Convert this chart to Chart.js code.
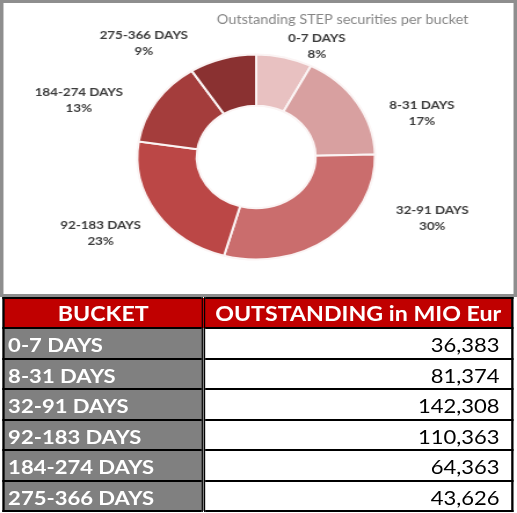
<!DOCTYPE html>
<html>
<head>
<meta charset="utf-8">
<script src="https://cdn.jsdelivr.net/npm/chart.js@4.4.1/dist/chart.umd.min.js"></script>
<style>
  html, body { margin: 0; padding: 0; background: #fff; }
  body { width: 517px; height: 513px; overflow: hidden; }
  /* the original picture is stretched sideways, so everything is drawn narrow and scaled */
  #page {
    position: absolute; left: 0; top: 0;
    width: 446px; height: 513px;
    transform: scaleX(1.1592); transform-origin: 0 0;
    font-family: Lato, sans-serif;
  }
  #panel {
    position: absolute; left: 0; top: 0;
    width: 446px; height: 297px; box-sizing: border-box;
    border: 3px solid #8e8e8e;
    background: #fff;
  }
  #panel canvas { display: block; }
  #tbl {
    position: absolute; left: 2px; top: 297px; width: 441px;
    border-collapse: collapse;
  }
  #tbl td, #tbl th { border: 2px solid #000; padding: 0; }
  #tbl th {
    background: #c00000; color: #fff; font-weight: 700; font-size: 20px;
    height: 28px; text-align: center;
  }
  #tbl td { height: 26px; padding-top: 2.5px; font-size: 19px; }
  #tbl td.name {
    background: #808080; color: #fff; font-weight: 700;
    padding-left: 3px; border-right: 3px double #000; width: 167px;
  }
  #tbl th.first { border-right: 3px double #000; }
  #tbl td.val { text-align: right; padding-right: 10px; color: #000; }
</style>
</head>
<body>
<div id="page">
  <div id="panel"><canvas id="chart" width="440" height="291"></canvas></div>
  <table id="tbl"></table>
</div>
<script>
// data
const buckets = ['0-7 DAYS', '8-31 DAYS', '32-91 DAYS', '92-183 DAYS', '184-274 DAYS', '275-366 DAYS'];
const outstanding = [36383, 81374, 142308, 110363, 64363, 43626];
const sliceColors = ['#e8c1c1', '#d8a0a0', '#ca6d6d', '#bb4746', '#a43d3c', '#8a3131'];
const tableHeaders = ['BUCKET', 'OUTSTANDING in MIO Eur'];
const chartTitle = 'Outstanding STEP securities per bucket';

// build the table
const tbl = document.getElementById('tbl');
let html = '<tr><th class="first">' + tableHeaders[0] + '</th><th>' + tableHeaders[1] + '</th></tr>';
buckets.forEach((b, i) => {
  html += '<tr><td class="name">' + b + '</td><td class="val">' +
    outstanding[i].toLocaleString('en-US') + '</td></tr>';
});
tbl.innerHTML = html;

const total = outstanding.reduce((a, b) => a + b, 0);

// labels outside each slice, like excel's best fit
// shift = nudge from the outer middle of the arc to the label centre
const outsideLabels = {
  id: 'outsideLabels',
  afterDatasetsDraw(chart, args, opts) {
    const ctx = chart.ctx;
    const meta = chart.getDatasetMeta(0);
    ctx.save();
    ctx.font = opts.font;
    ctx.fillStyle = opts.color;
    ctx.textAlign = 'center';
    ctx.textBaseline = 'middle';
    meta.data.forEach((arc, i) => {
      const p = arc.getProps(['x', 'y', 'startAngle', 'endAngle', 'outerRadius'], true);
      const mid = (p.startAngle + p.endAngle) / 2;
      const s = opts.shift[i] || [0, 0];
      const cx = p.x + Math.cos(mid) * p.outerRadius + s[0];
      const cy = p.y + Math.sin(mid) * p.outerRadius + s[1];
      const pct = Math.round(outstanding[i] / total * 100) + '%';
      ctx.fillText(chart.data.labels[i], cx, cy - opts.lineGap / 2);
      ctx.fillText(pct, cx, cy + opts.lineGap / 2);
    });
    ctx.restore();
  }
};

new Chart(document.getElementById('chart'), {
  type: 'doughnut',
  data: {
    labels: buckets,
    datasets: [{
      data: outstanding,
      backgroundColor: sliceColors,
      borderColor: '#fbf4f4',
      borderWidth: 2
    }]
  },
  options: {
    responsive: false,
    animation: false,
    cutout: '50%',
    layout: { padding: { left: 35, right: 39, top: 0, bottom: 33.5 } },
    plugins: {
      legend: { display: false },
      tooltip: { enabled: false },
      title: {
        display: true,
        text: chartTitle,
        align: 'end',
        color: '#858585',
        font: { family: 'Lato', size: 12.5, weight: 'normal', lineHeight: 1.2 },
        padding: { top: 9.5, bottom: 26 }
      },
      outsideLabels: {
        font: 'bold 11.5px Lato',
        color: '#3c3c3c',
        lineGap: 16,
        shift: [[28, -11], [56, 11], [89, -20], [-48, 21], [-67, -1], [-68, -15]]
      }
    }
  },
  plugins: [outsideLabels]
});
</script>
</body>
</html>
